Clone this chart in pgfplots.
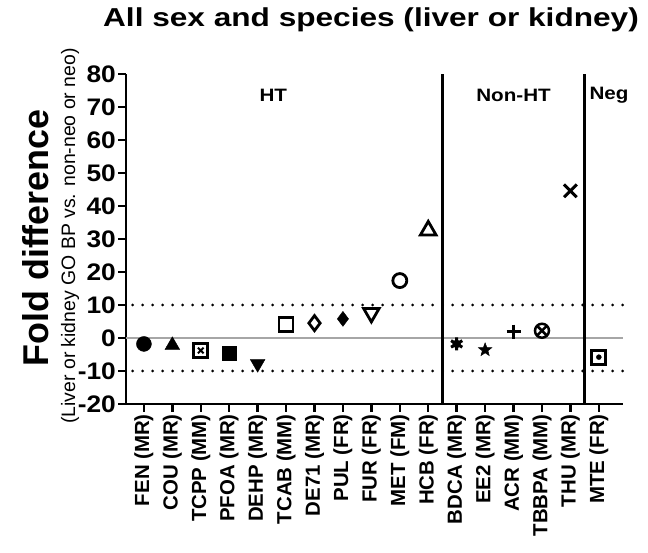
\documentclass[border=0pt]{standalone}
\usepackage{pgfplots}
\pgfplotsset{compat=1.18}
\usepackage{fontspec}
\setmainfont{Liberation Sans}
\newfontfamily\widef[FakeStretch=1.15]{Liberation Sans}
\newfontfamily\widet[FakeStretch=1.22]{Liberation Sans}
\newfontfamily\wideg[FakeStretch=1.1]{Liberation Sans}
\pgfdeclareplotmark{fstar}{%
  \pgfpathmoveto{\pgfpointpolar{90}{\pgfplotmarksize}}%
  \pgfpathlineto{\pgfpointpolar{126}{0.42\pgfplotmarksize}}%
  \pgfpathlineto{\pgfpointpolar{162}{\pgfplotmarksize}}%
  \pgfpathlineto{\pgfpointpolar{198}{0.42\pgfplotmarksize}}%
  \pgfpathlineto{\pgfpointpolar{234}{\pgfplotmarksize}}%
  \pgfpathlineto{\pgfpointpolar{270}{0.42\pgfplotmarksize}}%
  \pgfpathlineto{\pgfpointpolar{306}{\pgfplotmarksize}}%
  \pgfpathlineto{\pgfpointpolar{342}{0.42\pgfplotmarksize}}%
  \pgfpathlineto{\pgfpointpolar{18}{\pgfplotmarksize}}%
  \pgfpathlineto{\pgfpointpolar{54}{0.42\pgfplotmarksize}}%
  \pgfpathclose\pgfusepathqfillstroke}
\begin{document}
\begin{tikzpicture}[x=1bp,y=1bp]
\useasboundingbox (0,0) rectangle (648,553);
\begin{axis}[
  at={(126bp,149bp)}, anchor=south west,
  width=497bp, height=330bp, scale only axis,
  xmin=-0.63, xmax=16.85, ymin=-20, ymax=80,
  axis x line*=bottom, axis y line*=left,
  axis line style={line width=2.4bp, black},
  tick align=outside, major tick length=8bp,
  every tick/.style={line width=2.4bp, black},
  xtick={0,...,16},
  xticklabels={FEN (MR),COU (MR),TCPP (MM),PFOA (MR),DEHP (MR),TCAB (MM),DE71 (MR),PUL (FR),FUR (FR),MET (FM),HCB (FR),BDCA (MR),EE2 (MR),ACR (MM),TBBPA (MM),THU (MR),MTE (FR)},
  xticklabel style={rotate=90, anchor=east, font=\bfseries\fontsize{20.5}{20.5}\selectfont, inner sep=2bp},
  ytick={-20,-10,0,10,20,30,40,50,60,70,80},
  yticklabels={-20,-10,0,10,20,30,40,50,60,70,80},
  yticklabel style={font=\wideg\bfseries\fontsize{24}{24}\selectfont, inner sep=2bp},
  clip=false,
]
% reference lines
\addplot[gray!70, line width=1.5bp] coordinates {(-0.63,0) (16.85,0)};
\addplot[black, line width=3bp, line cap=round, dash pattern=on 0bp off 10bp] coordinates {(-0.4,10) (16.85,10)};
\addplot[black, line width=3bp, line cap=round, dash pattern=on 0bp off 10bp] coordinates {(-0.4,-10) (16.85,-10)};
\addplot[black, line width=2.4bp] coordinates {(10.5,-20) (10.5,80)};
\addplot[black, line width=2.4bp] coordinates {(15.5,-20) (15.5,80)};
% data
\addplot[only marks, mark=*, mark size=7.5bp, black] coordinates {(0,-1.8)};
\addplot[only marks, mark=triangle*, mark size=8.5bp, black] coordinates {(1,-2.2)};
\addplot[only marks, mark=square, mark size=7bp, black, line width=2.8bp] coordinates {(2,-3.8)};
\addplot[only marks, mark=x, mark size=4bp, black, line width=2bp] coordinates {(2,-3.8)};
\addplot[only marks, mark=square*, mark size=7bp, black] coordinates {(3,-4.6)};
\addplot[only marks, mark=triangle*, mark size=8.5bp, black, mark options={rotate=180}] coordinates {(4,-7.8)};
\addplot[only marks, mark=square, mark size=7bp, black, line width=2.8bp] coordinates {(5,4.2)};
\addplot[only marks, mark=diamond, mark size=7.5bp, black, line width=2.8bp] coordinates {(6,4.5)};
\addplot[only marks, mark=diamond*, mark size=7.5bp, black] coordinates {(7,5.8)};
\addplot[only marks, mark=triangle, mark size=9bp, black, line width=2.8bp, mark options={rotate=180}] coordinates {(8,7.6)};
\addplot[only marks, mark=o, mark size=7bp, black, line width=2.8bp] coordinates {(9,17.4)};
\addplot[only marks, mark=triangle, mark size=9bp, black, line width=2.8bp] coordinates {(10,32.6)};
\addplot[only marks, mark=asterisk, mark size=6.5bp, black, line width=3bp] coordinates {(11,-1.8)};
\addplot[only marks, mark=*, mark size=4bp, black] coordinates {(11,-1.8)};
\addplot[only marks, mark=fstar, mark size=7bp, black, fill=black, line width=0.5bp] coordinates {(12,-3.6)};
\addplot[only marks, mark=+, mark size=7bp, black, line width=2.8bp] coordinates {(13,1.9)};
\addplot[only marks, mark=otimes, mark size=7bp, black, line width=2.5bp] coordinates {(14,2.2)};
\addplot[only marks, mark=x, mark size=9bp, black, line width=3bp] coordinates {(15,44.6)};
\addplot[only marks, mark=square, mark size=7bp, black, line width=2.8bp] coordinates {(16,-5.8)};
\addplot[only marks, mark=*, mark size=2.5bp, black] coordinates {(16,-5.8)};
% group labels
\node[font=\widef\bfseries\fontsize{18}{18}\selectfont] at (axis cs:4.55,73.5) {HT};
\node[font=\widef\bfseries\fontsize{18}{18}\selectfont] at (axis cs:13.0,73.5) {Non-HT};
\node[font=\widef\bfseries\fontsize{18}{18}\selectfont, anchor=west] at (axis cs:15.55,73.5) {Neg};
\end{axis}
\node[font=\widet\bfseries\fontsize{26}{26}\selectfont] at (371,533) {All sex and species (liver or kidney)};
\node[font=\bfseries\fontsize{36}{36}\selectfont, rotate=90] at (36,315) {Fold difference};
\node[font=\fontsize{19.5}{19.5}\selectfont, rotate=90] at (70,317) {(Liver or kidney GO BP vs. non-neo or neo)};
\end{tikzpicture}
\end{document}
